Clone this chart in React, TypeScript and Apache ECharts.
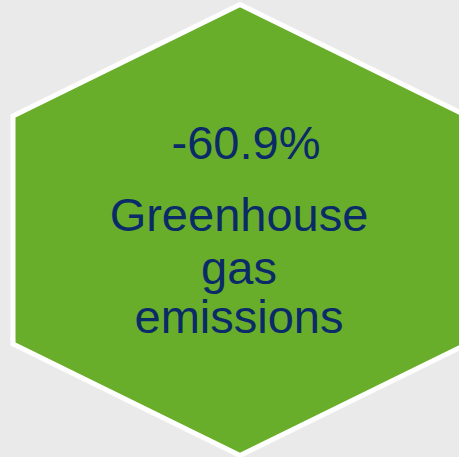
import React, { useEffect, useRef } from "react";
import * as echarts from "echarts";

const changeValue = -60.9;
const labelLines = ["Greenhouse", "gas", "emissions"];
const hexPoints: number[][] = [
  [240, 4.5],
  [467, 116],
  [467, 344],
  [240, 455.5],
  [13, 344],
  [13, 116],
];

const TEXT_COLOR = "#0A2A68";
const FONT = '47px "Liberation Sans", Arial, sans-serif';

export default function App() {
  const ref = useRef<HTMLDivElement>(null);
  useEffect(() => {
    document.body.style.margin = "0";
    const chart = echarts.init(ref.current!, null, { renderer: "svg" });
    const elements: any[] = [
      {
        type: "polygon",
        shape: { points: hexPoints },
        style: { fill: "#68AE2A", stroke: "#FFFFFF", lineWidth: 5 },
      },
      {
        type: "text",
        x: 246,
        y: 142,
        style: {
          text: `${changeValue.toFixed(1)}%`,
          font: FONT,
          fill: TEXT_COLOR,
          textAlign: "center",
          textVerticalAlign: "middle",
        },
      },
    ];
    const ys = [214, 267, 316];
    labelLines.forEach((line, i) => {
      elements.push({
        type: "text",
        x: 239,
        y: ys[i],
        style: {
          text: line,
          font: FONT,
          fill: TEXT_COLOR,
          textAlign: "center",
          textVerticalAlign: "middle",
        },
      });
    });
    chart.setOption({
      animation: false,
      backgroundColor: "#EAEAEA",
      graphic: { elements },
    });
    return () => chart.dispose();
  }, []);
  return <div ref={ref} style={{ width: 459, height: 457 }} />;
}
